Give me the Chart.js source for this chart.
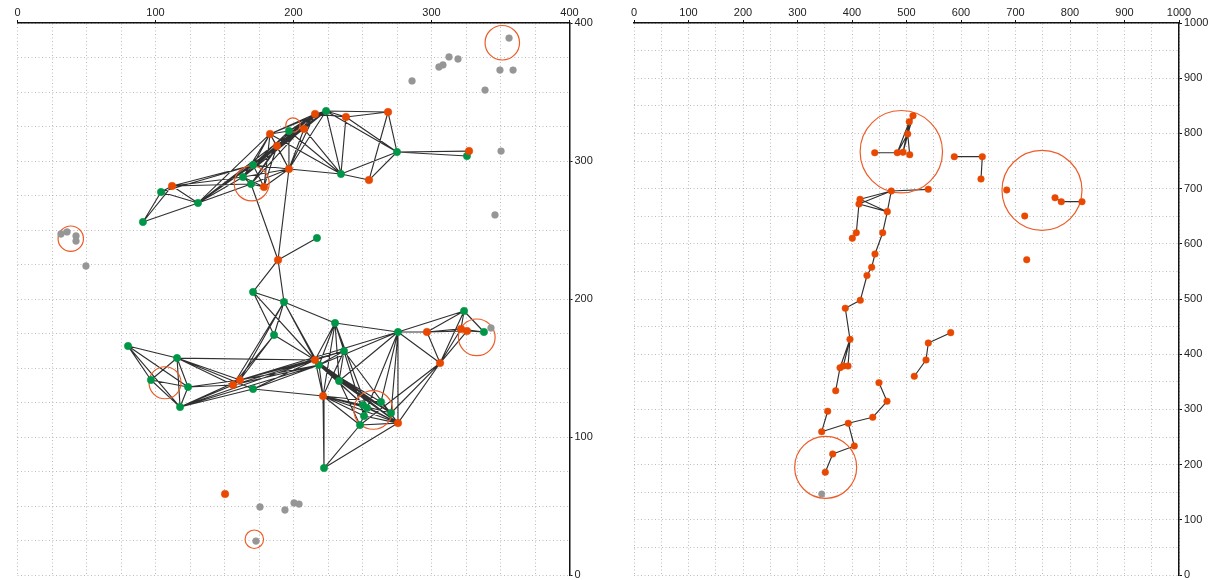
<!DOCTYPE html>
<html>
<head>
<meta charset="utf-8">
<script src="https://cdn.jsdelivr.net/npm/chart.js@4.4.0/dist/chart.umd.min.js"></script>
<style>
  html, body { margin: 0; padding: 0; background: #fff; overflow: hidden; }
  canvas { position: absolute; top: 0; }
  #left { left: 0; }
  #right { left: 606px; }
</style>
</head>
<body>
<canvas id="left" width="606" height="580"></canvas>
<canvas id="right" width="606" height="580"></canvas>
<script>
// ---------- left network (0..400 space) ----------
const leftGreen = [
  ['T1',223.6,336.2],['T6',196.7,321.7],['T9',275.0,306.5],['T10',170.7,297.1],['T12',234.4,290.6],
  ['T14',163.4,288.4],['T15',169.2,283.3],['T18',104.0,277.5],['T19',130.8,269.6],['T20',90.9,255.8],
  ['T21',217.0,244.2],['T24',325.7,303.6],
  ['B1',170.7,205.1],['B2',193.1,197.8],['B3',230.1,182.6],['B4',323.6,191.3],['B5',275.7,176.1],
  ['B9',338.0,176.1],['B11',185.9,173.9],['B12',80.1,165.9],['B13',115.6,157.2],['B14',236.6,162.3],
  ['B16',218.5,152.2],['B18',96.7,141.3],['B19',123.6,136.2],['B22',170.7,134.8],['B23',233.0,140.6],
  ['B25',117.8,121.7],['B26',263.4,125.4],['B27',250.4,123.2],['B28',253.3,121.0],['B29',270.7,117.4],
  ['B30',251.1,115.2],['B32',248.2,108.7],['B33',222.1,77.5]
];
const leftOrange = [
  ['T2',215.6,334.1],['T3',238.0,331.9],['T4',268.5,335.5],['T5',207.6,323.2],['T7',183.0,319.6],
  ['T8',188.0,310.9],['T11',196.7,294.2],['T13',254.7,286.2],['T16',178.6,281.2],['T17',112.0,281.9],
  ['T22',188.8,228.3],['T23',327.2,307.2],
  ['B6',296.7,176.1],['B7',321.4,178.3],['B8',325.7,176.8],['B15',215.6,155.8],['B17',306.2,153.6],
  ['B20',161.2,141.3],['B21',156.2,137.7],['B24',221.4,129.7],['B31',275.7,110.1],['O1',150.4,58.7]
];
const leftGray = [
  ['G1',356.2,389.1],['G2',312.7,375.4],['G3',319.2,373.9],['G4',305.4,368.1],['G5',308.3,369.6],
  ['G6',349.6,365.9],['G7',359.1,365.9],['G8',285.9,358.0],['G9',338.8,351.4],['G10',350.4,307.2],
  ['G11',346.0,260.9],['G12',31.5,247.1],['G13',35.9,248.6],['G14',42.4,245.7],['G15',42.4,242.0],
  ['G16',49.6,223.9],['G17',175.7,49.3],['G18',193.8,47.1],['G19',200.4,52.2],['G20',204.0,51.4],
  ['G21',172.8,24.6],['G22',343.1,179.0]
];
const leftEdges = [
  ['T20','T18'],['T20','T17'],['T20','T19'],['T18','T17'],['T18','T19'],['T17','T19'],
  ['T17','T10'],['T17','T14'],['T17','T15'],['T18','T10'],['T19','T14'],['T19','T10'],['T19','T15'],
  ['T19','T7'],['T19','T2'],['T19','T1'],
  ['T14','T10'],['T14','T15'],['T14','T16'],['T14','T8'],['T14','T7'],['T14','T2'],['T14','T1'],['T14','T11'],
  ['T10','T7'],['T10','T8'],['T10','T6'],['T10','T5'],['T10','T2'],['T10','T1'],['T10','T16'],['T10','T11'],
  ['T15','T8'],['T15','T6'],['T15','T2'],['T15','T16'],['T15','T11'],['T15','T22'],
  ['T16','T7'],['T16','T8'],['T16','T11'],
  ['T7','T8'],['T7','T6'],['T7','T2'],['T7','T1'],['T7','T11'],['T7','T12'],
  ['T8','T2'],['T8','T5'],['T8','T11'],['T8','T1'],
  ['T6','T1'],['T6','T2'],['T6','T11'],['T6','T12'],['T6','T5'],
  ['T5','T1'],['T5','T2'],['T5','T11'],['T5','T12'],
  ['T2','T1'],['T2','T3'],['T2','T11'],
  ['T1','T3'],['T1','T4'],['T1','T12'],['T1','T9'],['T1','T11'],
  ['T3','T12'],['T3','T9'],['T3','T4'],
  ['T4','T9'],['T4','T13'],
  ['T12','T11'],['T12','T9'],['T12','T13'],['T13','T9'],
  ['T9','T23'],['T9','T24'],
  ['T11','T22'],['T22','T21'],['T22','B1'],['T22','B2'],
  ['B1','B2'],['B1','B11'],['B1','B15'],['B2','B11'],['B2','B3'],['B2','B15'],['B2','B16'],['B2','B20'],['B2','B21'],
  ['B11','B20'],['B11','B21'],['B11','B15'],
  ['B3','B5'],['B3','B14'],['B3','B15'],['B3','B16'],['B3','B23'],['B3','B24'],['B3','B28'],
  ['B12','B13'],['B12','B18'],['B12','B19'],['B12','B25'],
  ['B13','B18'],['B13','B19'],['B13','B25'],['B13','B20'],['B13','B21'],['B13','B22'],['B13','B15'],
  ['B18','B19'],['B18','B25'],
  ['B19','B25'],['B19','B21'],['B19','B20'],
  ['B25','B21'],['B25','B22'],['B25','B20'],['B25','B15'],['B25','B16'],
  ['B20','B21'],['B20','B15'],['B20','B16'],['B20','B5'],['B20','B14'],
  ['B21','B15'],['B21','B16'],
  ['B22','B24'],['B22','B16'],['B22','B15'],
  ['B15','B16'],['B15','B14'],['B15','B24'],['B15','B27'],['B15','B29'],['B15','B31'],['B15','B23'],
  ['B16','B14'],['B16','B24'],['B16','B26'],['B16','B28'],['B16','B29'],['B16','B31'],['B16','B23'],['B16','B5'],
  ['B14','B24'],['B14','B31'],['B14','B23'],['B14','B30'],
  ['B23','B29'],['B23','B31'],['B23','B32'],['B23','B5'],
  ['B24','B26'],['B24','B27'],['B24','B28'],['B24','B29'],['B24','B30'],['B24','B31'],['B24','B32'],['B24','B33'],
  ['B5','B4'],['B5','B6'],['B5','B17'],['B5','B29'],['B5','B31'],['B5','B26'],['B5','B32'],
  ['B4','B17'],['B4','B7'],['B4','B9'],['B4','B6'],
  ['B6','B7'],['B6','B17'],['B6','B8'],
  ['B7','B8'],['B8','B9'],['B7','B9'],['B7','B17'],['B8','B17'],
  ['B17','B31'],['B17','B32'],['B17','B29'],
  ['B26','B29'],['B26','B31'],['B27','B28'],['B27','B31'],['B28','B31'],['B30','B31'],['B32','B31'],['B28','B30'],
  ['B31','B33'],['B32','B33']
];
// rings: centre x, centre y, radius (axis units)
const leftRings = [
  [351.3,385.7,12.5],[199.6,326.1,5.2],[169.7,283.8,12.7],[38.6,243.7,9.2],
  [332.8,172.2,13.3],[106.9,139.3,11.6],[257.8,119.6,14.0],[171.6,25.9,6.7]
];

// ---------- right paths (0..1000 space) ----------
const rightOrange = [
  ['R1',511.9,832.1],['R2',505.1,821.2],['R3',502.2,798.9],['R4',441.7,765.0],['R5',483.1,765.0],
  ['R6',493.6,765.8],['R7',505.9,761.4],['R8',587.7,757.8],['R9',639.1,757.8],['R10',636.7,717.4],
  ['R11',472.1,695.7],['R12',540.0,698.7],['R13',683.9,697.5],['R14',772.5,683.5],['R15',784.0,676.3],
  ['R16',822.0,676.3],['R17',716.9,650.4],['R18',720.6,571.2],['R19',414.7,680.6],['R20',412.8,672.1],
  ['R21',464.8,658.2],['R22',407.9,620.1],['R23',400.6,610.0],['R24',456.3,620.1],['R25',442.2,581.5],
  ['R26',436.1,557.4],['R27',427.5,542.6],['R28',415.2,497.6],['R29',387.7,483.2],['R30',396.3,427.0],
  ['R31',378.0,375.5],['R32',384.0,378.6],['R33',392.7,378.6],['R34',370.1,333.9],['R35',449.5,348.4],
  ['R36',464.2,314.7],['R37',438.0,285.7],['R38',393.2,274.8],['R39',344.4,259.6],['R40',355.4,296.6],
  ['R41',404.2,233.7],['R42',364.6,219.2],['R43',351.0,186.1],['R44',581.1,439.0],['R45',540.0,420.3],
  ['R46',535.8,389.5],['R47',514.3,360.0]
];
const rightGray = [['RG',344.4,146.7]];
const rightEdges = [
  ['R1','R2'],['R2','R3'],['R1','R3'],['R3','R5'],['R3','R6'],['R3','R7'],['R2','R5'],['R2','R6'],['R1','R6'],
  ['R4','R5'],['R5','R6'],
  ['R8','R9'],['R9','R10'],
  ['R11','R12'],['R11','R19'],['R11','R20'],['R11','R21'],['R19','R21'],['R20','R21'],['R19','R20'],
  ['R20','R22'],['R22','R23'],
  ['R21','R24'],['R24','R25'],['R25','R26'],['R26','R27'],['R27','R28'],['R28','R29'],['R29','R30'],
  ['R30','R31'],['R30','R32'],['R30','R33'],['R31','R34'],['R31','R32'],
  ['R35','R36'],['R36','R37'],['R37','R38'],['R38','R39'],['R39','R40'],['R38','R41'],['R41','R42'],['R42','R43'],
  ['R44','R45'],['R45','R46'],['R46','R47'],
  ['R14','R15'],['R15','R16']
];
const rightRings = [[490.5,766.8,75.6],[748.6,696.9,73.4],[351.7,195.1,56.9]];

// tick labels every 100, grid every step
const leftTickLabels = [0,100,200,300,400];
const rightTickLabels = [0,100,200,300,400,500,600,700,800,900,1000];

const GREEN = 'rgb(0,150,72)';
const ORANGE = 'rgb(232,72,0)';
const GRAY = 'rgb(150,150,150)';
const RING = 'rgb(236,92,40)';
const FONT = '"Liberation Sans", Arial, Helvetica, sans-serif';

const toPoints = list => list.map(([, x, y]) => ({ x, y }));

function edgePoints(edges, nodeLists) {
  const pos = {};
  nodeLists.forEach(list => list.forEach(([id, x, y]) => { pos[id] = { x, y }; }));
  const out = [];
  edges.forEach(([a, b]) => {
    out.push({ x: pos[a].x, y: pos[a].y }, { x: pos[b].x, y: pos[b].y }, { x: null, y: null });
  });
  return out;
}

function ringRadius(ctx) {
  const d = ctx.raw;
  if (!d) return 0;
  const s = ctx.chart.scales.x;
  return Math.abs(s.getPixelForValue(d.x + d.r) - s.getPixelForValue(d.x));
}

function axis(position, max, step, labels, size) {
  return {
    type: 'linear', position, min: 0, max,
    ticks: {
      stepSize: step, autoSkip: false, maxRotation: 0, padding: position === 'top' ? 0 : 2,
      color: '#222', font: { family: FONT, size: 11 },
      callback: v => labels.includes(v) ? String(v) : ''
    },
    grid: {
      color: 'rgba(165,165,165,0.75)', lineWidth: 1,
      tickLength: 3, tickWidth: 1,
      tickColor: c => (c.tick && labels.includes(c.tick.value)) ? '#111' : 'rgba(0,0,0,0)'
    },
    border: { display: true, color: '#111', width: 1.5, dash: [1, 2.5] },
    afterFit: scale => {
      if (position === 'top') { scale.height = size; scale.paddingLeft = 0; scale.paddingRight = 0; }
      else { scale.width = size; scale.paddingTop = 0; scale.paddingBottom = 0; }
    }
  };
}

function makeChart(id, cfg) {
  const datasets = [
    { label: 'links', data: edgePoints(cfg.edges, cfg.nodeLists), showLine: true, spanGaps: false,
      borderColor: 'rgba(30,30,30,0.92)', borderWidth: 1.15, pointRadius: 0, order: 5 },
    { label: 'rings', data: cfg.rings.map(([x, y, r]) => ({ x, y, r })),
      pointRadius: ringRadius, pointBackgroundColor: 'rgba(0,0,0,0)',
      pointBorderColor: RING, pointBorderWidth: 1.2, order: 4 }
  ];
  cfg.groups.forEach((g, i) => datasets.push({
    label: g.name, data: toPoints(g.nodes), pointRadius: g.radius,
    pointBackgroundColor: g.color, pointBorderColor: g.color, pointBorderWidth: 0.5, order: 3 - i
  }));
  return new Chart(document.getElementById(id), {
    type: 'scatter',
    data: { datasets },
    options: {
      responsive: false, animation: false, events: [],
      layout: { padding: cfg.padding },
      plugins: { legend: { display: false }, tooltip: { enabled: false } },
      scales: {
        x: axis('top', cfg.max, cfg.step, cfg.labels, 23),
        y: axis('right', cfg.max, cfg.step, cfg.labels, cfg.rightWidth)
      }
    }
  });
}

makeChart('left', {
  max: 400, step: 25, labels: leftTickLabels, rightWidth: 36.5,
  padding: { left: 17.5, top: 0, right: 0, bottom: 5 },
  edges: leftEdges, nodeLists: [leftGreen, leftOrange, leftGray], rings: leftRings,
  groups: [
    { name: 'gray', nodes: leftGray, color: GRAY, radius: 3.4 },
    { name: 'green', nodes: leftGreen, color: GREEN, radius: 3.7 },
    { name: 'orange', nodes: leftOrange, color: ORANGE, radius: 3.8 }
  ]
});

makeChart('right', {
  max: 1000, step: 50, labels: rightTickLabels, rightWidth: 33,
  padding: { left: 28, top: 0, right: 0, bottom: 5 },
  edges: rightEdges, nodeLists: [rightOrange, rightGray], rings: rightRings,
  groups: [
    { name: 'gray', nodes: rightGray, color: GRAY, radius: 3.2 },
    { name: 'orange', nodes: rightOrange, color: ORANGE, radius: 3.3 }
  ]
});
</script>
</body>
</html>
